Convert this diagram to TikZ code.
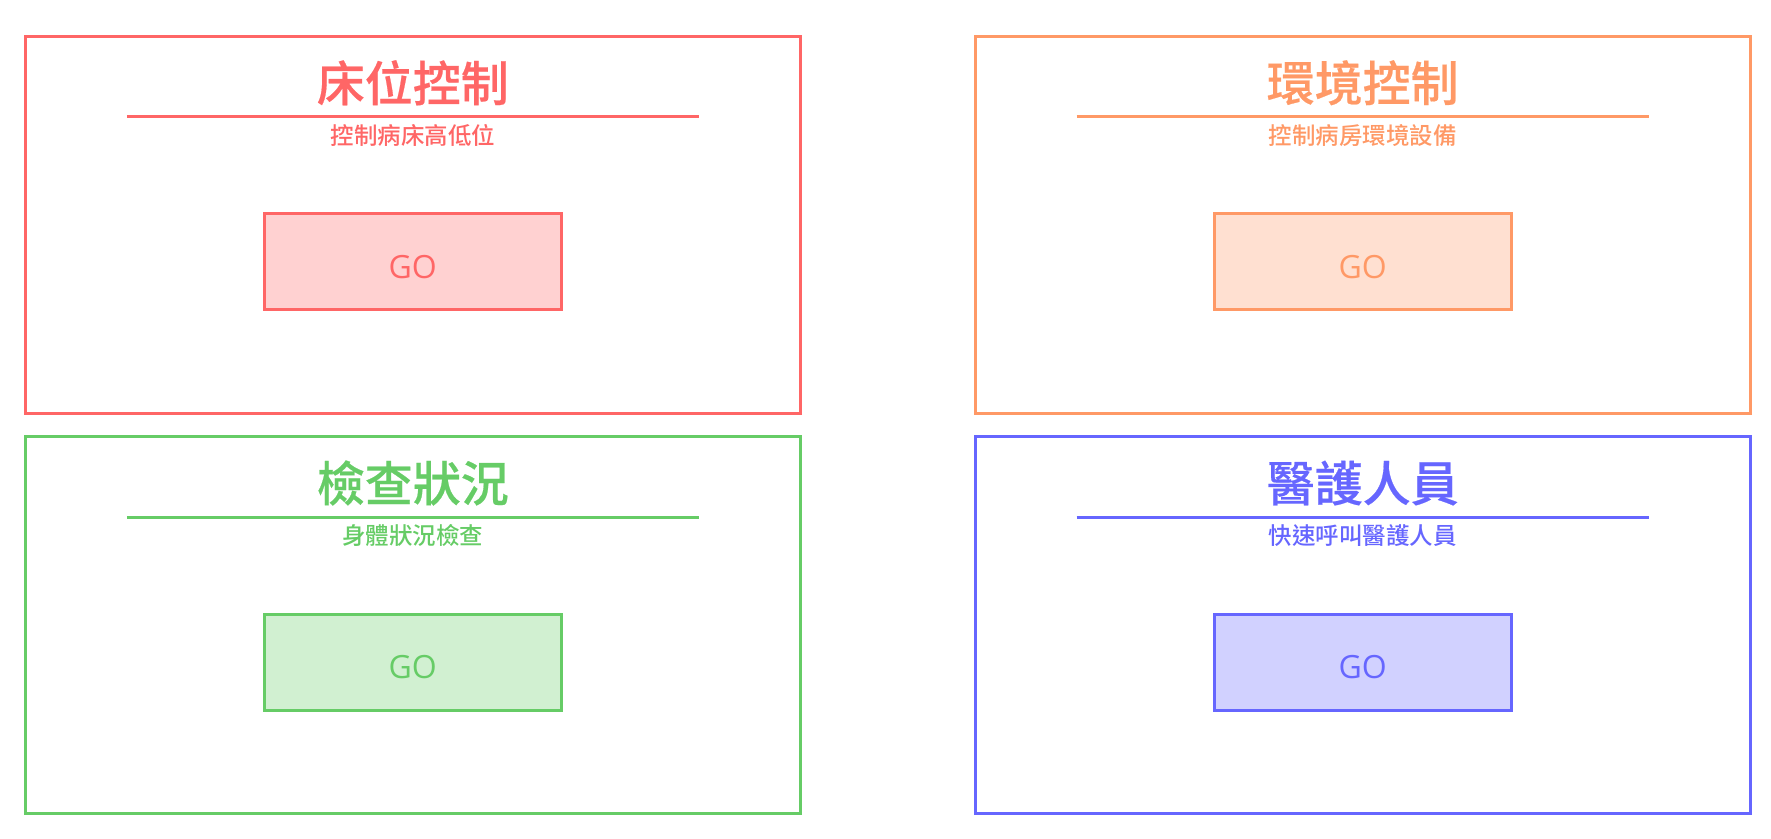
\documentclass[tikz,border=0pt]{standalone}
\usepackage{fontspec}
\setmainfont{Open Sans}
\newfontfamily\cjk{Noto Sans CJK TC Medium}
\newfontfamily\cjkt{Noto Sans CJK TC Medium}[FakeBold=0.4]
\definecolor{cr}{HTML}{FF6666}
\definecolor{co}{HTML}{FF9966}
\definecolor{cg}{HTML}{66CC66}
\definecolor{cb}{HTML}{6666FF}
\tikzset{
  frame/.style={draw, line width=3pt, minimum width=775pt, minimum height=377pt, inner sep=0pt},
  ptitle/.style={inner sep=0pt, font=\cjkt\fontsize{48}{56}\selectfont},
  psub/.style={inner sep=0pt, font=\cjk\fontsize{23.5}{28}\selectfont},
  prule/.style={line width=3pt},
  gobtn/.style={draw, line width=3pt, minimum width=297pt, minimum height=96pt, inner sep=0pt, font=\fontsize{32}{38}\selectfont}
}
\newcommand\mypanel[6]{%
  \node[frame, draw=#4] (#1) at (#2,#3) {};
  \node[ptitle, text=#4] (#1t) at ({#2},{#3-142}) {#5};
  \coordinate (#1l) at ({#2-286},{#3-108});
  \coordinate (#1r) at ({#2+286},{#3-108});
  \draw[prule, draw=#4] (#1l) -- (#1r);
  \node[psub, text=#4] (#1s) at ({#2},{#3-89.5}) {#6};
  \node[gobtn, draw=#4, fill=#4!30, text=#4] (#1go) at ({#2},{#3+37}) {\raisebox{-5pt}[\height][\depth]{GO}};
}
\begin{document}
\begin{tikzpicture}[x=1pt,y=-1pt]
\useasboundingbox (0,0) rectangle (1771,838);
\mypanel{pa}{412.8}{224.75}{cr}{床位控制}{控制病床高低位}
\mypanel{pb}{1362.7}{224.75}{co}{環境控制}{控制病房環境設備}
\mypanel{pc}{412.8}{625}{cg}{檢查狀況}{身體狀況檢查}
\mypanel{pd}{1362.7}{625}{cb}{醫護人員}{快速呼叫醫護人員}
\end{tikzpicture}
\end{document}
